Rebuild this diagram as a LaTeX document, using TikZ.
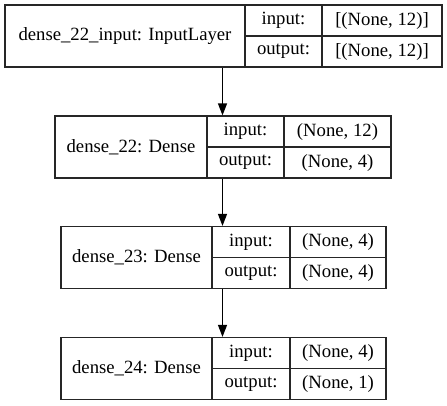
\documentclass[tikz,border=0pt]{standalone}
\usepackage{fontspec}
\setmainfont{Liberation Serif}
\usepackage{tikz}
\usetikzlibrary{arrows.meta}
\tikzset{
  layercell/.style={rectangle,draw=black!85,line width=1.2pt,inner sep=0pt,
    font=\fontsize{18.7}{21}\selectfont},
  namecell/.style={layercell,minimum height=62pt},
  portcell/.style={layercell,minimum height=31pt},
  flowarrow/.style={line width=1.2pt,-{Triangle[length=12pt,width=9pt]}}
}

\begin{document}
\begin{tikzpicture}[x=1pt,y=-1pt]
  \useasboundingbox (0,0) rectangle (447,405);

  % input layer
  \node[namecell,minimum width=240pt] (name1) at (125,36) {dense\_22\_input: InputLayer};
  \node[portcell,minimum width=77pt] (in1) at (283.5,20.5) {input:};
  \node[portcell,minimum width=77pt] (out1) at (283.5,51.5) {output:};
  \node[portcell,minimum width=120pt] (inval1) at (382,20.5) {[(None, 12)]};
  \node[portcell,minimum width=120pt] (outval1) at (382,51.5) {[(None, 12)]};

  % dense_22
  \node[namecell,minimum width=152pt] (name2) at (131,147) {dense\_22: Dense};
  \node[portcell,minimum width=77pt] (in2) at (245.5,131.5) {input:};
  \node[portcell,minimum width=77pt] (out2) at (245.5,162.5) {output:};
  \node[portcell,minimum width=107pt] (inval2) at (337.5,131.5) {(None, 12)};
  \node[portcell,minimum width=107pt] (outval2) at (337.5,162.5) {(None, 4)};

  % dense_23
  \node[namecell,minimum width=151pt] (name3) at (136.5,257.5) {dense\_23: Dense};
  \node[portcell,minimum width=78pt] (in3) at (251,242) {input:};
  \node[portcell,minimum width=78pt] (out3) at (251,273) {output:};
  \node[portcell,minimum width=96pt] (inval3) at (338,242) {(None, 4)};
  \node[portcell,minimum width=96pt] (outval3) at (338,273) {(None, 4)};

  % dense_24
  \node[namecell,minimum width=151pt] (name4) at (136.5,368.5) {dense\_24: Dense};
  \node[portcell,minimum width=78pt] (in4) at (251,353) {input:};
  \node[portcell,minimum width=78pt] (out4) at (251,384) {output:};
  \node[portcell,minimum width=96pt] (inval4) at (338,353) {(None, 4)};
  \node[portcell,minimum width=96pt] (outval4) at (338,384) {(None, 1)};

  \coordinate (axis) at (222.5,0);
  \draw[flowarrow] (name1.south -| axis) -- (in2.north -| axis);
  \draw[flowarrow] (out2.south -| axis) -- (in3.north -| axis);
  \draw[flowarrow] (out3.south -| axis) -- (in4.north -| axis);
\end{tikzpicture}
\end{document}
